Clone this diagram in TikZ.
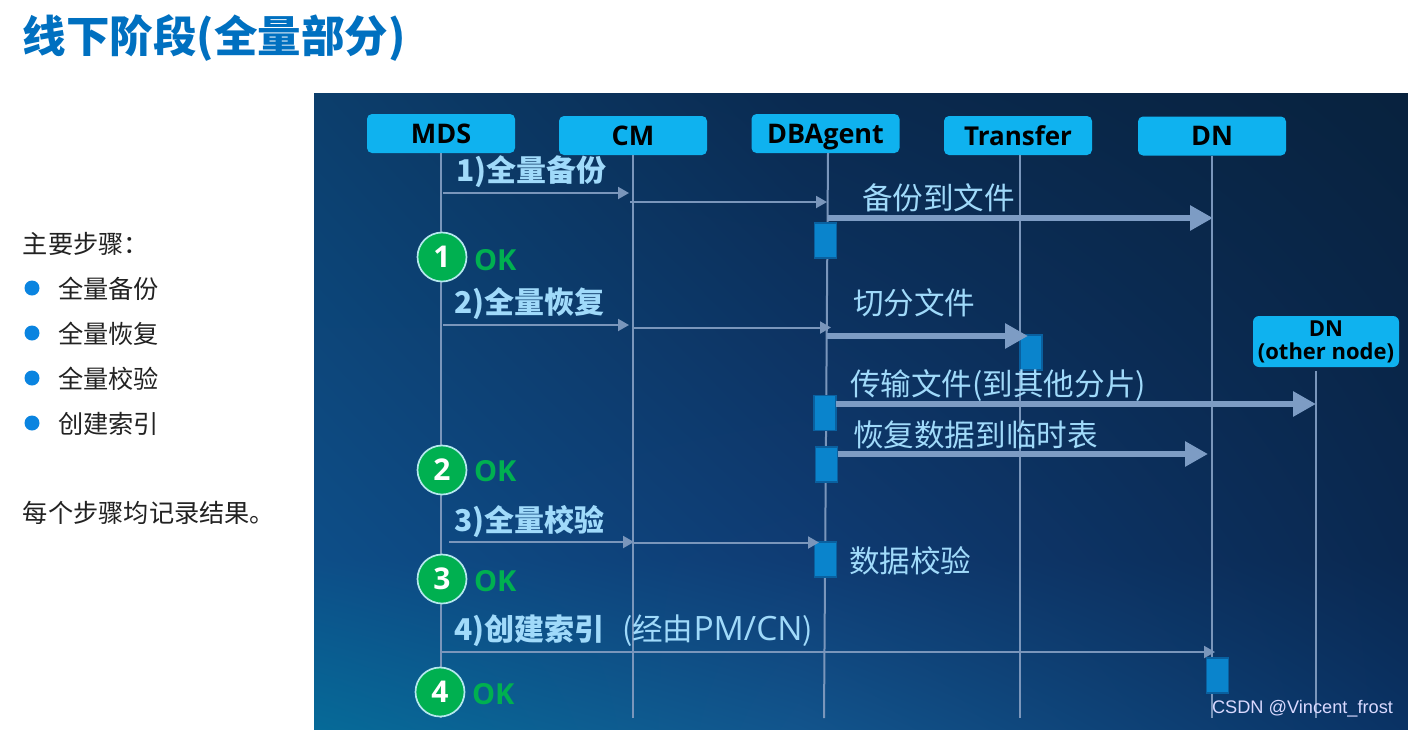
\documentclass[tikz,border=0pt]{standalone}
\usepackage{fontspec}
\usetikzlibrary{arrows.meta,shadings}
\setmainfont{Noto Sans CJK SC}
\newfontfamily\cjkf{Noto Sans CJK SC}
\newfontfamily\latf{Open Sans}
\newfontfamily\wmf{Liberation Sans}
\definecolor{lineC}{HTML}{7A96BB}
\definecolor{thickC}{HTML}{7D9CC4}
\definecolor{actC}{HTML}{0A84CC}
\definecolor{actB}{HTML}{0A609F}
\definecolor{labC}{HTML}{A0DAFA}
\definecolor{nodeC}{HTML}{0FB2EF}
\definecolor{okC}{HTML}{00B050}
\definecolor{ringC}{HTML}{B5E8EE}
\definecolor{titleC}{HTML}{0070C0}
\definecolor{dotC}{HTML}{0A84E0}
\definecolor{bodyC}{HTML}{222222}
\definecolor{bgA}{HTML}{0C3E6C}
\definecolor{bgB}{HTML}{0A2A50}
\definecolor{bgC}{HTML}{08223E}
\definecolor{bgD}{HTML}{0D4E88}
\definecolor{bgE}{HTML}{0F3C74}
\definecolor{bgF}{HTML}{0A2850}
\definecolor{bgG}{HTML}{066A98}
\definecolor{bgH}{HTML}{12548C}
\definecolor{bgI}{HTML}{0A3264}
\newcommand{\fs}[1]{\fontsize{#1}{#1}\selectfont}
\tikzset{
  x=1pt,y=-1pt,
  every node/.style={inner sep=0pt,outer sep=0pt},
  actor/.style={draw=none,fill=nodeC,rounded corners=5pt,minimum width=148pt,minimum height=39pt,align=center,text=black,text height=20pt,text depth=1pt,font=\latf\bfseries\fs{27}},
  lifeline/.style={draw=lineC,line width=2pt},
  thin arrow/.style={draw=lineC,line width=2pt,-{Triangle[length=11pt,width=12pt]}},
  thick arrow/.style={draw=thickC,line width=6.5pt,-{Triangle[length=23pt,width=24pt]}},
  activation/.style={fill=actC,draw=actB,line width=1.2pt,minimum width=22pt,minimum height=35pt},
  lab/.style={anchor=west,text=labC,font=\cjkf\bfseries\fs{30}},
  note/.style={anchor=west,text=labC,font=\cjkf\fs{30.6}},
  badge/.style={circle,fill=okC,draw=ringC,line width=1.7pt,minimum size=49pt,text=white,font=\latf\bfseries\fs{30}},
  oktext/.style={anchor=west,text=okC,font=\latf\bfseries\fs{29}},
  body/.style={anchor=west,text=bodyC,font=\cjkf\fs{25.2}},
  bullet/.style={circle,fill=dotC,minimum size=15pt},
  dnotext/.style={text=black,font=\latf\bfseries\fs{22}},
}
\begin{document}
\begin{tikzpicture}
\useasboundingbox (0,0) rectangle (1408,729);
\fill[white] (0,0) rectangle (1408,729);
\shade[upper left=bgA,upper right=bgB,lower left=bgD,lower right=bgE] (314,93) rectangle (800.5,560.5);
\shade[upper left=bgB,upper right=bgC,lower left=bgE,lower right=bgF] (800,93) rectangle (1408,560.5);
\shade[upper left=bgD,upper right=bgE,lower left=bgG,lower right=bgH] (314,560) rectangle (800.5,729);
\shade[upper left=bgE,upper right=bgF,lower left=bgH,lower right=bgI] (800,560) rectangle (1408,729);
% left text
\node[anchor=west,text=titleC,font=\cjkf\bfseries\fs{43.5}] (title) at (23,38) {线下阶段(全量部分)};
\node[body] (intro) at (23,244) {主要步骤：};
\node[bullet] (b1) at (32,288) {}; \node[body] (t1) at (58,289) {全量备份};
\node[bullet] (b2) at (32,333) {}; \node[body] (t2) at (58,334) {全量恢复};
\node[bullet] (b3) at (32,378) {}; \node[body] (t3) at (58,379) {全量校验};
\node[bullet] (b4) at (32,423) {}; \node[body] (t4) at (58,424) {创建索引};
\node[body] (sum) at (23,513) {每个步骤均记录结果。};
% actors
\node[actor] (mds) at (441,133.5) {MDS};
\node[actor] (cm) at (633,135.5) {CM};
\node[actor] (dba) at (825.5,133.5) {DBAgent};
\node[actor,font=\latf\bfseries\fs{26}] (tr) at (1018,135.5) {Transfer};
\node[actor] (dn) at (1212,136) {DN};
\node[actor,minimum width=146pt,minimum height=51pt,rounded corners=6pt] (dno) at (1326,341.5) {};
\node[dnotext] (dnoa) at (1326,329) {DN};
\node[dnotext] (dnob) at (1326,353) {(other node)};
% life line ends
\coordinate (mdsE) at (441,718);
\coordinate (cmE) at (633,718);
\coordinate (dbaS) at (828,153);
\coordinate (dbaE) at (824,718);
\coordinate (trE) at (1020,718);
\coordinate (dnE) at (1212,718);
\coordinate (dnoS) at (1316,371);
\coordinate (dnoE) at (1316,718);
\draw[lifeline] (mds.south) -- (mdsE);
\draw[lifeline] (cm.south) -- (cmE);
\draw[lifeline] (dbaS) -- (dbaE);
\draw[lifeline] (tr.south -| trE) -- (trE);
\draw[lifeline] (dn.south) -- (dnE);
\draw[lifeline] (dnoS) -- (dnoE);
% activations
\node[activation] (a1) at (825.5,240.5) {};
\node[activation] (a2) at (1031,352.5) {};
\node[activation] (a3) at (825,413) {};
\node[activation] (a4) at (826.5,464.5) {};
\node[activation] (a5) at (825.5,559.5) {};
\node[activation] (a6) at (1217.5,675.5) {};
% arrow anchors
\coordinate (p1a) at (443,193); \coordinate (p1b) at (629,193);
\coordinate (p2a) at (630,202); \coordinate (p2b) at (827,202);
\coordinate (p3a) at (828,218); \coordinate (p3b) at (1213,218);
\coordinate (p4a) at (443,325); \coordinate (p4b) at (629,325);
\coordinate (p5a) at (633,327.5); \coordinate (p5b) at (831,327.5);
\coordinate (p6a) at (827,336); \coordinate (p6b) at (1028,336);
\coordinate (p7b) at (1316,404);
\coordinate (p8b) at (1208,454);
\coordinate (p9a) at (449,542); \coordinate (p9b) at (634,542);
\coordinate (p10a) at (633,542.5); \coordinate (p10b) at (819,542.5);
\coordinate (p11a) at (440,652); \coordinate (p11b) at (1215,652);
\draw[thin arrow] (p1a) -- (p1b);
\draw[thin arrow] (p2a) -- (p2b);
\draw[thick arrow] (p3a) -- (p3b);
\draw[thin arrow] (p4a) -- (p4b);
\draw[thin arrow] (p5a) -- (p5b);
\draw[thick arrow] (p6a) -- (p6b);
\draw[thick arrow] (a3.east |- p7b) -- (p7b);
\draw[thick arrow] (a4.east |- p8b) -- (p8b);
\draw[thin arrow] (p9a) -- (p9b);
\draw[thin arrow] (p10a) -- (p10b);
\draw[thin arrow] (p11a) -- (p11b);
% labels
\node[lab] (l1) at (456,172) {1)全量备份};
\node[lab] (l2) at (454,304) {2)全量恢复};
\node[lab] (l3) at (454,522) {3)全量校验};
\node[lab] (l4) at (454,631) {4)创建索引};
\node[note] (l4b) at (622,631) {(经由{\latf\fs{33.5}PM/CN})};
\node[note] (n1) at (862,198) {备份到文件};
\node[note] (n2) at (853,303) {切分文件};
\node[note] (n3) at (850,386) {传输文件(到其他分片)};
\node[note] (n4) at (853,435) {恢复数据到临时表};
\node[note] (n5) at (849,561) {数据校验};
% badges
\node[badge] (c1) at (442,257) {1}; \node[oktext] (o1) at (474,260) {OK};
\node[badge] (c2) at (442,470) {2}; \node[oktext] (o2) at (474,471) {OK};
\node[badge] (c3) at (442,579) {3}; \node[oktext] (o3) at (474,581) {OK};
\node[badge] (c4) at (440,692) {4}; \node[oktext] (o4) at (472,694) {OK};
% watermark
\node[anchor=west,text=white!85!blue,font=\wmf\fs{18.2}] (wm) at (1212,709) {CSDN @Vincent\_frost};
\end{tikzpicture}
\end{document}
